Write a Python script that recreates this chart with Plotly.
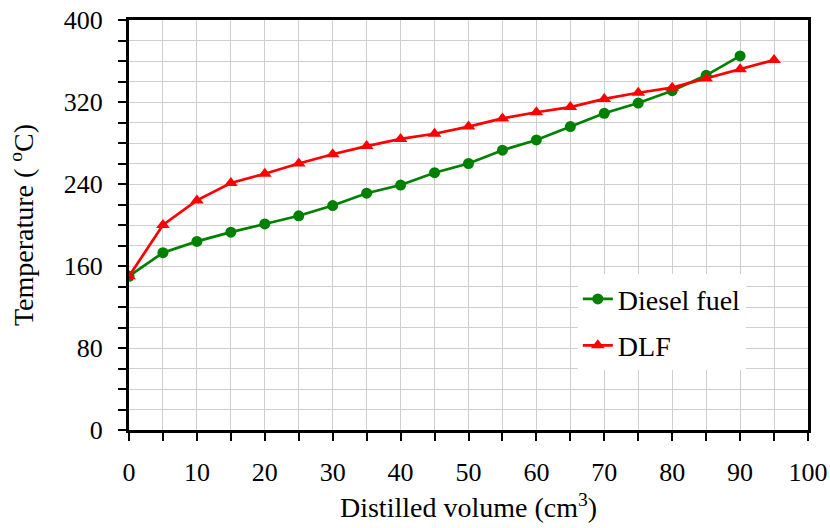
import plotly.graph_objects as go

# Distillation curves: temperature vs. distilled volume
volume_diesel = [0, 5, 10, 15, 20, 25, 30, 35, 40, 45, 50, 55, 60, 65, 70, 75, 80, 85, 90]
temp_diesel = [150, 173, 184, 193, 201, 209, 219, 231, 239, 251, 260, 273, 283, 296, 309, 319, 331, 346, 365]

volume_dlf = [0, 5, 10, 15, 20, 25, 30, 35, 40, 45, 50, 55, 60, 65, 70, 75, 80, 85, 90, 95]
temp_dlf = [150, 200, 224, 241, 250, 260, 269, 277, 284, 289, 296, 304, 310, 315, 323, 329, 334, 343, 352, 361]

FONT = "'Liberation Serif', 'Times New Roman', Tinos, 'DejaVu Serif', serif"

fig = go.Figure()
fig.add_trace(go.Scatter(
    x=volume_diesel, y=temp_diesel, mode="lines+markers", name="Diesel fuel",
    legendgroup="a",
    line=dict(color="#008000", width=2.7),
    marker=dict(symbol="circle", size=11, color="#008000"),
))
fig.add_trace(go.Scatter(
    x=volume_dlf, y=temp_dlf, mode="lines+markers", name="DLF",
    legendgroup="b",
    line=dict(color="#ff0000", width=2.7),
    marker=dict(symbol="triangle-up", size=12, color="#ff0000"),
))

grid = "#cfcfcf"
fig.update_layout(
    width=830, height=528,
    margin=dict(l=129, r=22, t=20, b=98),
    paper_bgcolor="white", plot_bgcolor="white",
    font=dict(family=FONT, size=26, color="black"),
    showlegend=True,
    legend=dict(
        x=0.661, y=0.38, xanchor="left", yanchor="top",
        bgcolor="white", borderwidth=0,
        font=dict(family=FONT, size=28, color="black"),
        tracegroupgap=7,
    ),
    xaxis=dict(
        range=[0, 100], dtick=10, tick0=0, automargin=False,
        showline=True, linecolor="black", linewidth=3, mirror=True,
        ticks="outside", ticklen=8, tickwidth=2, tickcolor="black",
        ticklabelstandoff=9,
        showgrid=True, gridcolor=grid, gridwidth=1,
        minor=dict(dtick=5, ticks="outside", ticklen=8, tickwidth=2,
                   tickcolor="black", showgrid=True, gridcolor=grid, gridwidth=1),
        zeroline=False,
        title=dict(text="Distilled volume (cm<sup>3</sup>)",
                   font=dict(family=FONT, size=28), standoff=12),
    ),
    yaxis=dict(
        range=[0, 400], dtick=80, tick0=0, automargin=False,
        showline=True, linecolor="black", linewidth=3, mirror=True,
        ticks="outside", ticklen=8, tickwidth=2, tickcolor="black",
        ticklabelstandoff=10,
        showgrid=True, gridcolor=grid, gridwidth=1,
        minor=dict(dtick=20, ticks="outside", ticklen=8, tickwidth=2,
                   tickcolor="black", showgrid=True, gridcolor=grid, gridwidth=1),
        zeroline=False,
        title=dict(text="Temperature ( <sup>o</sup>C)",
                   font=dict(family=FONT, size=28), standoff=22),
    ),
)

fig.write_html("out.html")
